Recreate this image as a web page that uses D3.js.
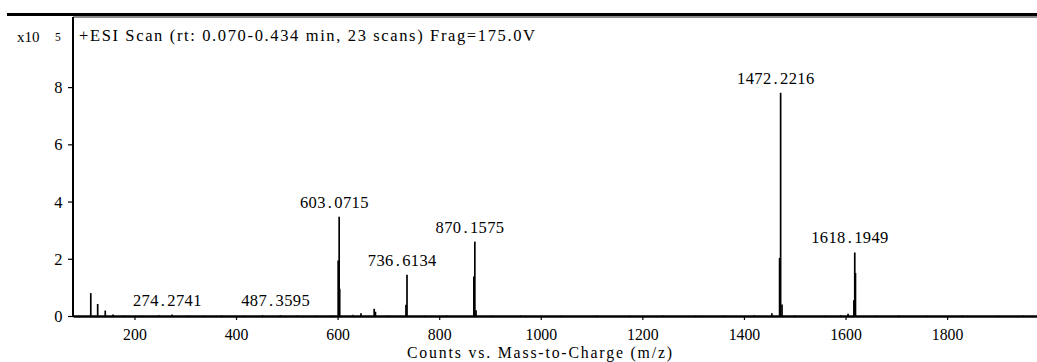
<!DOCTYPE html>
<html>
<head>
<meta charset="utf-8">
<script src="https://cdn.jsdelivr.net/npm/d3@7"></script>
<style>
  html, body { margin: 0; padding: 0; background: #fff; }
  svg { display: block; }
</style>
</head>
<body>
<svg id="chart" width="1037" height="362"></svg>
<script>
// Mass spectrum: m/z (x) and counts in units of 10^5 (y)
const peakMz = [
  114.0, 127.6, 142.5, 158.0,
  274.2741, 487.3595,
  601.1, 603.0715, 604.1,
  646.0, 672.0, 674.5,
  734.6, 736.6134,
  868.2, 870.1575, 872.5,
  1455.0, 1470.2, 1472.2216, 1475.0,
  1605.0, 1616.5, 1618.1949, 1619.6
];
const peakCounts = [
  0.80, 0.42, 0.19, 0.05,
  0.05, 0.03,
  1.94, 3.47, 0.95,
  0.10, 0.25, 0.15,
  0.39, 1.44,
  1.38, 2.60, 0.20,
  0.10, 2.03, 7.80, 0.40,
  0.08, 0.55, 2.22, 1.50
];
// low-level baseline signal
const noiseMz = [180, 215, 248, 305, 338, 372, 415, 452, 520, 556, 588, 630, 700, 772, 815, 905, 960, 1040, 1110, 1175, 1240, 1305, 1360, 1420, 1500, 1560, 1590, 1660, 1705, 1760, 1830, 1900, 1950];
const noiseCounts = [0.03, 0.02, 0.04, 0.03, 0.02, 0.03, 0.02, 0.04, 0.03, 0.02, 0.03, 0.05, 0.03, 0.02, 0.03, 0.02, 0.03, 0.02, 0.03, 0.02, 0.03, 0.02, 0.03, 0.04, 0.03, 0.02, 0.03, 0.02, 0.03, 0.02, 0.03, 0.02, 0.03];

const labelMz = [274.2741, 487.3595, 603.0715, 736.6134, 870.1575, 1472.2216, 1618.1949];
const labelText = ["274.2741", "487.3595", "603.0715", "736.6134", "870.1575", "1472.2216", "1618.1949"];

const xTicks = [200, 400, 600, 800, 1000, 1200, 1400, 1600, 1800];
const yTicks = [0, 2, 4, 6, 8];

const headerText = "+ESI Scan (rt: 0.070-0.434 min, 23 scans) Frag=175.0V";
const xTitle = "Counts vs. Mass-to-Charge (m/z)";

const FONT = "'Liberation Serif', 'Times New Roman', Tinos, serif";

const svg = d3.select("#chart").attr("font-family", FONT);
const W = 1037;
const plot = { left: 73, right: 1037, top: 17, bottom: 316 };

const x = d3.scaleLinear().domain([79, 1977]).range([plot.left, plot.right]);
const y = d3.scaleLinear().domain([0, 10.45]).range([plot.bottom, plot.top]);

// Numbers are set on a fixed pitch, each glyph centred in its cell
function pitched(sel, str, x0, adv) {
  sel.text(str)
    .attr("text-anchor", "middle")
    .attr("x", d3.range(str.length).map(i => (x0 + i * adv + adv / 2).toFixed(2)).join(" "));
  return sel;
}

function addText(px, py, size, str) {
  return svg.append("text")
    .attr("x", px).attr("y", py)
    .attr("font-family", FONT).attr("font-size", size)
    .attr("fill", "#000").text(str);
}

// header rule and frame top
svg.append("line").attr("x1", 7).attr("x2", W).attr("y1", 14.5).attr("y2", 14.5)
  .attr("stroke", "#000").attr("stroke-width", 3.2);
svg.append("line").attr("x1", plot.left).attr("x2", W).attr("y1", 17).attr("y2", 17)
  .attr("stroke", "#666").attr("stroke-width", 1.5);

svg.append("clipPath").attr("id", "plotClip").append("rect")
  .attr("x", plot.left).attr("y", plot.top).attr("width", plot.right - plot.left).attr("height", plot.bottom - plot.top + 1);

const spec = svg.append("g").attr("clip-path", "url(#plotClip)");

spec.selectAll("line.noise").data(noiseMz).join("line")
  .attr("class", "noise")
  .attr("x1", d => x(d)).attr("x2", d => x(d))
  .attr("y1", y(0)).attr("y2", (d, i) => y(noiseCounts[i]))
  .attr("stroke", "#333").attr("stroke-width", 1);

spec.selectAll("line.peak").data(peakMz).join("line")
  .attr("class", "peak")
  .attr("x1", d => x(d)).attr("x2", d => x(d))
  .attr("y1", y(0)).attr("y2", (d, i) => y(peakCounts[i]))
  .attr("stroke", "#000").attr("stroke-width", 1.7);

// axes
const xAxis = svg.append("g").attr("transform", `translate(0,${plot.bottom})`)
  .call(d3.axisBottom(x).tickValues(xTicks).tickSize(4).tickSizeOuter(0).tickFormat(d3.format("d")));
xAxis.attr("font-family", FONT).attr("font-size", 15.8);
xAxis.select(".domain").attr("stroke-width", 2.4);
xAxis.selectAll(".tick line").attr("stroke-width", 1.2);
xAxis.selectAll(".tick text").attr("y", 23.5).attr("dy", 0);

const yAxis = svg.append("g").attr("transform", `translate(${plot.left},0)`)
  .call(d3.axisLeft(y).tickValues(yTicks).tickSize(5).tickSizeOuter(0).tickFormat(d3.format("d")));
yAxis.attr("font-family", FONT).attr("font-size", 16.5);
yAxis.select(".domain").attr("stroke-width", 2).attr("d", `M0,${plot.top}V${plot.bottom + 1}`);
yAxis.selectAll(".tick line").attr("stroke-width", 1.2);
yAxis.selectAll(".tick text").attr("x", -10.5).attr("dy", "0.34em");

// exponent marker
addText(17, 42, 15, "x10");
addText(55, 41, 11.5, "5");

// scan header
addText(79, 41, 16.5, headerText)
  .attr("textLength", 456).attr("lengthAdjust", "spacing");

// peak labels
const counts = labelMz.map(m => peakCounts[peakMz.indexOf(m)]);
labelMz.forEach((m, i) => {
  const s = labelText[i];
  const adv = 8.6;
  const x0 = x(m) - 5 - (s.length * adv) / 2;
  pitched(addText(0, y(counts[i]) - 9, 16.5, ""), s, x0, adv);
});

// x axis title
addText(407, 358.2, 15.8, xTitle)
  .attr("textLength", 265).attr("lengthAdjust", "spacing");
</script>
</body>
</html>
